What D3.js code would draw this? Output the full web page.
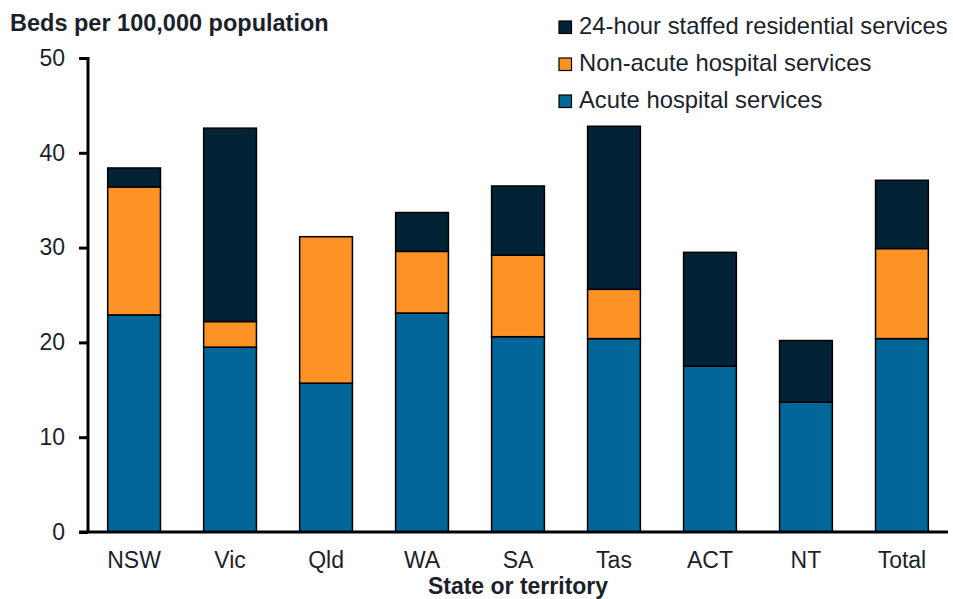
<!DOCTYPE html>
<html>
<head>
<meta charset="utf-8">
<script src="https://cdn.jsdelivr.net/npm/d3@7"></script>
<style>
  body { margin: 0; background: #fff; }
  svg { display: block; font-family: "Liberation Sans", Arial, sans-serif; }
</style>
</head>
<body>
<div id="chart"></div>
<script>
// Data
const states = ["NSW", "Vic", "Qld", "WA", "SA", "Tas", "ACT", "NT", "Total"];
const acute = [22.9, 19.5, 15.7, 23.1, 20.6, 20.4, 17.5, 13.7, 20.4];
const nonAcute = [13.5, 2.7, 15.45, 6.5, 8.6, 5.2, 0, 0, 9.5];
const residential = [2.0, 20.4, 0, 4.1, 7.3, 17.2, 12.0, 6.5, 7.2];

const seriesNames = [
  "Acute hospital services",
  "Non-acute hospital services",
  "24-hour staffed residential services"
];
const seriesColors = ["#036699", "#fd9226", "#022335"];
const yTicks = [0, 10, 20, 30, 40, 50];

const width = 953;
const height = 599;
const textColor = "#1c1f2b";

const svg = d3.select("#chart")
  .append("svg")
  .attr("width", width)
  .attr("height", height);

const x = d3.scaleBand()
  .domain(states)
  .range([88, 948])
  .paddingInner(0.45)
  .paddingOuter(0.205);

const y = d3.scaleLinear()
  .domain([0, 50])
  .range([532, 58]);

// build rows for the stack
const rows = states.map((s, i) => ({
  state: s,
  acute: acute[i],
  nonAcute: nonAcute[i],
  residential: residential[i]
}));
const keys = ["acute", "nonAcute", "residential"];
const stacked = d3.stack().keys(keys)(rows);

svg.append("g")
  .selectAll("g")
  .data(stacked)
  .join("g")
  .attr("fill", (d, i) => seriesColors[i])
  .selectAll("rect")
  .data(d => d.filter(p => p[1] - p[0] > 0))
  .join("rect")
  .attr("x", d => x(d.data.state))
  .attr("y", d => y(d[1]))
  .attr("width", x.bandwidth())
  .attr("height", d => y(d[0]) - y(d[1]))
  .attr("stroke", "#000")
  .attr("stroke-width", 1.5);

// y axis
const yAxis = svg.append("g")
  .attr("transform", "translate(88,0)")
  .call(d3.axisLeft(y).tickValues(yTicks).tickSize(9).tickPadding(14));
yAxis.select(".domain").remove();
yAxis.append("line")
  .attr("x1", 0).attr("x2", 0)
  .attr("y1", y(50) - 1).attr("y2", y(0))
  .attr("stroke", "#000").attr("stroke-width", 3);
yAxis.selectAll(".tick line").attr("stroke", "#000").attr("stroke-width", 3);
yAxis.selectAll(".tick text")
  .attr("font-size", 23)
  .attr("fill", textColor)
  .attr("font-family", "Liberation Sans, Arial, sans-serif");

// x axis
const xAxis = svg.append("g")
  .attr("transform", `translate(0,${y(0)})`)
  .call(d3.axisBottom(x).tickSize(0).tickPadding(20));
xAxis.select(".domain").remove();
xAxis.append("line")
  .attr("x1", 79).attr("x2", 948)
  .attr("stroke", "#000").attr("stroke-width", 3);
xAxis.selectAll(".tick text")
  .attr("font-size", 23)
  .attr("fill", textColor)
  .attr("font-family", "Liberation Sans, Arial, sans-serif");

// titles
svg.append("text")
  .attr("x", 10)
  .attr("y", 31)
  .attr("font-size", 23.5)
  .attr("font-weight", "bold")
  .attr("fill", textColor)
  .text("Beds per 100,000 population");

svg.append("text")
  .attr("x", (x.range()[0] + x.range()[1]) / 2)
  .attr("y", 594)
  .attr("text-anchor", "middle")
  .attr("font-size", 23)
  .attr("font-weight", "bold")
  .attr("fill", textColor)
  .text("State or territory");

// legend (top to bottom: residential, non-acute, acute)
const legendOrder = [2, 1, 0];
const legend = svg.append("g")
  .selectAll("g")
  .data(legendOrder)
  .join("g")
  .attr("transform", (d, i) => `translate(559,${27 + i * 37})`);

legend.append("rect")
  .attr("x", 0)
  .attr("y", -6)
  .attr("width", 12.5)
  .attr("height", 12.5)
  .attr("fill", d => seriesColors[d])
  .attr("stroke", "#000")
  .attr("stroke-width", 1.2);

legend.append("text")
  .attr("x", 20)
  .attr("y", 7)
  .attr("font-size", 23.8)
  .attr("fill", textColor)
  .text(d => seriesNames[d]);
</script>
</body>
</html>
